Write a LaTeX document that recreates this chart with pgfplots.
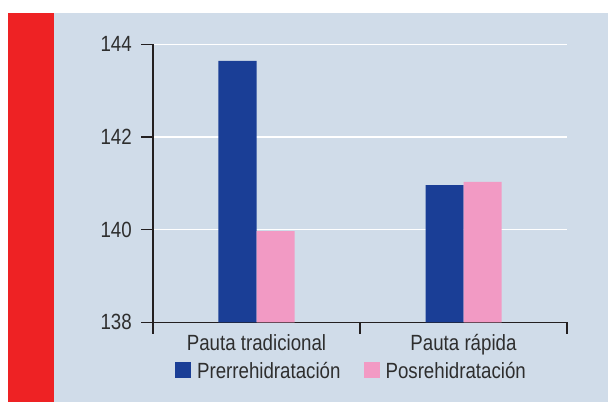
\documentclass[border=0pt]{standalone}
\usepackage{fontspec}
\setmainfont{Liberation Sans}[FakeStretch=0.85]
\usepackage{pgfplots}
\pgfplotsset{compat=1.18}
\definecolor{barblue}{HTML}{1A3E96}
\definecolor{barpink}{HTML}{F29AC4}
\definecolor{panel}{HTML}{D0DCE9}
\definecolor{redbar}{HTML}{EE2224}
\definecolor{txt}{HTML}{2E2E2E}
\definecolor{axline}{HTML}{231F20}
\begin{document}
\begin{tikzpicture}
\useasboundingbox[fill=white] (-153bp,-79.7bp) rectangle (455bp,322.3bp);
\fill[panel] (-145bp,-79.7bp) rectangle (455bp,309.3bp);
\fill[redbar] (-145bp,-79.7bp) rectangle (-99bp,309.3bp);
\begin{axis}[
  at={(0,0)}, anchor=south west,
  scale only axis, width=414bp, height=278bp,
  xmin=-0.5, xmax=1.5, ymin=138, ymax=144,
  ybar=0pt, bar width=38bp,
  legend image code/.code={\fill[#1] (0bp,-7bp) rectangle (16bp,9bp);},
  axis lines*=left,
  axis line style={axline, line width=1.3bp},
  xtick={0,1}, xticklabels={Pauta tradicional, Pauta rápida},
  ytick={138,140,142,144},
  minor xtick={-0.5,0.5,1.5},
  minor ytick={138,140,142,144},
  major tick length=0pt,
  minor tick length=11.5bp,
  tick align=outside,
  minor tick style={axline, line width=1.3bp},
  ymajorgrids,
  grid style={white, line width=1.3bp},
  /pgf/number format/assume math mode=true,
  every tick label/.append style={font=\fontsize{22bp}{26bp}\selectfont, text=txt},
  yticklabel style={inner sep=0pt, xshift=-21bp},
  xticklabel style={inner sep=0pt, text height=16bp, text depth=5bp, yshift=-11.7bp},
  legend columns=2,
  legend style={at={(0.477,-0.175)}, anchor=center, draw=none, fill=none,
    font=\fontsize{22bp}{26bp}\selectfont, text=txt,
    nodes={inner sep=0pt},
    /tikz/every odd column/.append style={column sep=6bp},
    /tikz/every even column/.append style={column sep=23bp}},
]
\addplot[fill=barblue, draw=none] coordinates {(0,143.64) (1,140.96)};
\addplot[fill=barpink, draw=none] coordinates {(0,139.97) (1,141.03)};
\legend{Prerrehidratación, Posrehidratación}
\end{axis}
\end{tikzpicture}
\end{document}
